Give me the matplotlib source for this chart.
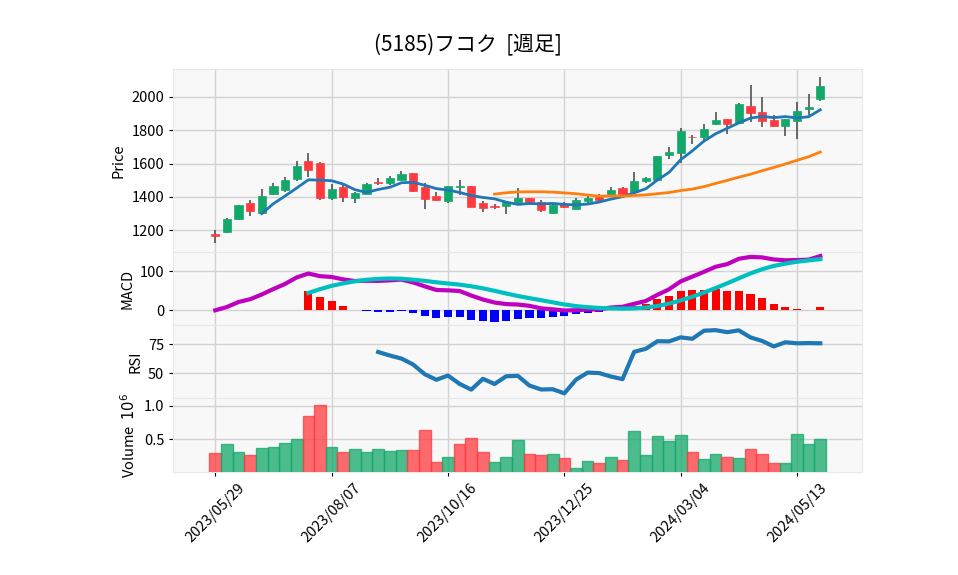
import numpy as np
import pandas as pd
from matplotlib import pyplot as plt

plt.rcParams['font.family'] = ['Noto Sans CJK JP', 'DejaVu Sans']

# weekly OHLC data
opens = [1174, 1188, 1264, 1360, 1300, 1414, 1438, 1504, 1618, 1604,
         1392, 1456, 1392, 1414, 1490, 1480, 1500, 1544, 1458, 1402,
         1372, 1456, 1462, 1364, 1346, 1346, 1370, 1394, 1368, 1304,
         1354, 1328, 1374, 1396, 1408, 1452, 1426, 1496, 1500, 1650,
         1666, 1762, 1758, 1840, 1868, 1846, 1946, 1908, 1860, 1828,
         1858, 1930, 1988]
highs = [1200, 1272, 1350, 1378, 1444, 1480, 1520, 1618, 1664, 1612,
         1478, 1468, 1430, 1484, 1514, 1524, 1556, 1544, 1480, 1428,
         1466, 1500, 1462, 1374, 1358, 1374, 1454, 1394, 1380, 1360,
         1366, 1394, 1404, 1414, 1460, 1460, 1546, 1516, 1644, 1702,
         1812, 1772, 1838, 1912, 1868, 1962, 2072, 1998, 1890, 1868,
         1972, 2016, 2118]
lows = [1120, 1184, 1258, 1284, 1294, 1408, 1430, 1494, 1520, 1380,
        1380, 1368, 1360, 1414, 1468, 1468, 1496, 1428, 1328, 1374,
        1364, 1408, 1340, 1308, 1324, 1298, 1360, 1356, 1308, 1296,
        1334, 1328, 1360, 1376, 1408, 1408, 1426, 1480, 1500, 1626,
        1602, 1718, 1742, 1832, 1778, 1846, 1852, 1822, 1822, 1766,
        1748, 1892, 1978]
closes = [1162, 1268, 1348, 1314, 1402, 1462, 1498, 1588, 1560, 1392,
          1444, 1398, 1420, 1478, 1480, 1510, 1534, 1434, 1388, 1380,
          1466, 1462, 1340, 1332, 1338, 1368, 1394, 1366, 1320, 1352,
          1340, 1378, 1392, 1380, 1440, 1414, 1494, 1512, 1644, 1670,
          1796, 1758, 1806, 1862, 1836, 1958, 1902, 1858, 1824, 1868,
          1916, 1940, 2066]
volumes = [283000, 424000, 303000, 258000, 364000, 379000, 440000, 500000, 848000, 1015000,
           379000, 303000, 346000, 302000, 348000, 318000, 333000, 333000, 636000, 152000,
           227000, 424000, 515000, 303000, 152000, 227000, 485000, 268000, 253000, 268000,
           207000, 61000, 162000, 131000, 227000, 177000, 621000, 253000, 545000, 470000,
           560000, 298000, 197000, 268000, 227000, 212000, 348000, 268000, 131000, 131000,
           576000, 424000, 500000]

dates = pd.date_range('2023-05-29', periods=len(closes), freq='W-MON')
tick_idx = [0, 10, 20, 30, 40, 50]
tick_labels = [dates[i].strftime('%Y/%m/%d') for i in tick_idx]

df = pd.DataFrame({'Open': opens, 'High': highs, 'Low': lows,
                   'Close': closes, 'Volume': volumes}, index=dates)
x = np.arange(len(df))

# indicators
ma5 = df['Close'].rolling(5).mean()
ma25 = df['Close'].rolling(25).mean()
ema12 = df['Close'].ewm(span=12, adjust=False).mean()
ema26 = df['Close'].ewm(span=26, adjust=False).mean()
macd = ema12 - ema26
signal = macd.rolling(9).mean()
hist = macd - signal
diff = df['Close'].diff()
gain = diff.clip(lower=0).rolling(14).mean()
loss = (-diff.clip(upper=0)).rolling(14).mean()
rsi = 100 * gain / (gain + loss)

up_c = '#12a86a'
dn_c = '#ff3a3f'
bg = '#f8f8f8'
gridc = '#d2d2d2'

fig = plt.figure(figsize=(9.58, 5.75), dpi=100)
gs = fig.add_gridspec(4, 1, height_ratios=[183, 73, 73, 74], left=0.181, right=0.9,
                      top=0.88, bottom=0.179, hspace=0)
ax1 = fig.add_subplot(gs[0])
ax2 = fig.add_subplot(gs[1], sharex=ax1)
ax3 = fig.add_subplot(gs[2], sharex=ax1)
ax4 = fig.add_subplot(gs[3], sharex=ax1)

for ax in (ax1, ax2, ax3, ax4):
    ax.set_facecolor(bg)
    ax.grid(True, color=gridc, linewidth=1)
    ax.set_axisbelow(True)
    for s in ax.spines.values():
        s.set_color('#e8e8e8')
    ax.tick_params(axis='y', labelsize=10.5, length=3)
    ax.tick_params(axis='x', length=3)

# candles
o = df['Open'].values
c = df['Close'].values
colors = [up_c if c[i] >= o[i] else dn_c for i in range(len(df))]
ax1.vlines(x, df['Low'], df['High'], color='#444444', linewidth=1.1, zorder=2)
ax1.bar(x, np.maximum(np.abs(c - o), 2), bottom=np.minimum(o, c), width=0.7,
        color=colors, edgecolor=colors, linewidth=0.5, zorder=3)
ax1.plot(x, ma5, color='#1f77b4', linewidth=2, zorder=4)
ax1.plot(x, ma25, color='#ff7f0e', linewidth=2, zorder=4)
ax1.set_ylim(1068, 2168)
ax1.set_yticks([1200, 1400, 1600, 1800, 2000])
ax1.set_ylabel('Price', fontsize=10.5)

# MACD
hcol = ['r' if v >= 0 else 'b' for v in hist.fillna(0)]
ax2.bar(x, hist, width=0.7, color=hcol, zorder=2)
ax2.plot(x, macd, color='m', linewidth=3, zorder=3)
ax2.plot(x, signal, color='c', linewidth=3, zorder=3)
ax2.set_ylim(-38, 150)
ax2.set_yticks([0, 100])
ax2.set_ylabel('MACD', fontsize=10.5)

# RSI
ax3.plot(x, rsi, color='#1f77b4', linewidth=3)
ax3.set_ylim(28.4, 91.6)
ax3.set_yticks([50, 75])
ax3.set_ylabel('RSI', fontsize=10.5)

# volume, coloured by change from the previous close
prev = np.r_[o[0], c[:-1]]
vcol = [up_c if c[i] >= prev[i] else dn_c for i in range(len(df))]
ax4.bar(x, df['Volume'] / 1e6, width=1.0, color=vcol, alpha=0.75,
        edgecolor=vcol, linewidth=1, zorder=2)
ax4.set_ylim(0, 1.12)
ax4.set_yticks([0.5, 1.0])
ax4.set_ylabel('Volume  $10^{6}$', fontsize=10.5)

ax1.set_xlim(-3.6, 55.6)
ax4.set_xticks(tick_idx)
ax4.set_xticklabels(tick_labels, rotation=45, ha='center', fontsize=10.5)
for ax in (ax1, ax2, ax3):
    ax.tick_params(axis='x', labelbottom=False, length=0)

fig.text(0.4885, 0.922, '(5185)フコク  [週足]', ha='center', va='center', fontsize=15)

fig.savefig('out.png', dpi=100)
